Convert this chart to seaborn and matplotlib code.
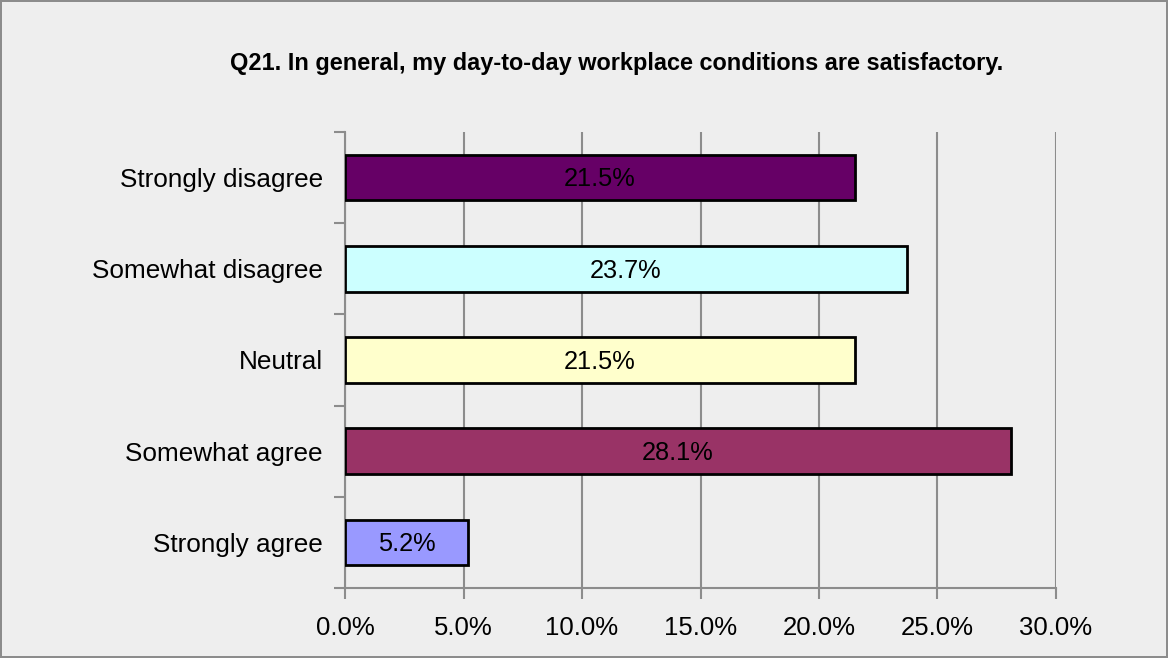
import pandas as pd
import numpy as np
import matplotlib.pyplot as plt
import seaborn as sns
from matplotlib.ticker import FuncFormatter, FixedLocator

sns.set_style("white")
plt.rcParams['font.family'] = ['Liberation Sans', 'DejaVu Sans']
plt.rcParams['text.color'] = 'black'
plt.rcParams['xtick.color'] = 'black'
plt.rcParams['ytick.color'] = 'black'

# data
categories = ["Strongly disagree", "Somewhat disagree", "Neutral", "Somewhat agree", "Strongly agree"]
shares = [21.5, 23.7, 21.5, 28.1, 5.2]
bar_colors = ["#660066", "#CCFFFF", "#FFFFCC", "#993366", "#9999FF"]
x_ticks = [0, 5, 10, 15, 20, 25, 30]

df = pd.DataFrame({"category": categories, "share": shares})

bg = "#EEEEEE"
grid_c = "#8C8C8C"

fig = plt.figure(figsize=(11.68, 6.58), dpi=100, facecolor=bg,
                 edgecolor="#8C8C8C", linewidth=1.5)
ax = fig.add_axes([0.2954, 0.1064, 0.6087, 0.693])
ax.set_facecolor(bg)

sns.barplot(data=df, x="share", y="category", hue="category", palette=bar_colors,
            order=categories, hue_order=categories, legend=False, width=0.5,
            saturation=1, edgecolor="black", linewidth=2, ax=ax, zorder=3)

# value labels centred in the bars
for i, v in enumerate(shares):
    ax.text(v / 2, i + 0.02, f"{v:.1f}%", ha="center", va="center", fontsize=18.3,
            color="black", zorder=4)

ax.set_xlim(0, 30)
ax.set_ylim(4.5, -0.5)
ax.xaxis.set_major_locator(FixedLocator(x_ticks))
ax.xaxis.set_major_formatter(FuncFormatter(lambda v, p: f"{v:.1f}%"))
ax.grid(axis="x", color=grid_c, linewidth=1.5, zorder=0)
ax.set_axisbelow(True)

# category ticks sit between the bars
ax.set_yticks(range(len(categories)))
ax.set_yticklabels(categories)
ax.set_yticks(np.arange(-0.5, len(categories), 1.0), minor=True)
ax.tick_params(axis="y", which="major", left=False, length=0, pad=16, labelsize=18.8)
ax.tick_params(axis="y", which="minor", left=True, length=8, width=1.5, color=grid_c, direction="out")
ax.tick_params(axis="x", bottom=True, length=8, width=1.5, color=grid_c, labelcolor="black",
               direction="out", pad=12, labelsize=18.5)

for s in ["top", "right"]:
    ax.spines[s].set_visible(False)
for s in ["left", "bottom"]:
    ax.spines[s].set_color(grid_c)
    ax.spines[s].set_linewidth(1.5)

ax.set_xlabel("")
ax.set_ylabel("")

fig.text(0.528, 0.903, "Q21. In general, my day-to-day workplace conditions are satisfactory.",
         ha="center", va="center", fontsize=16.9, fontweight="bold", color="black")

fig.savefig("out.png", dpi=100, facecolor=bg, edgecolor="#8C8C8C")
